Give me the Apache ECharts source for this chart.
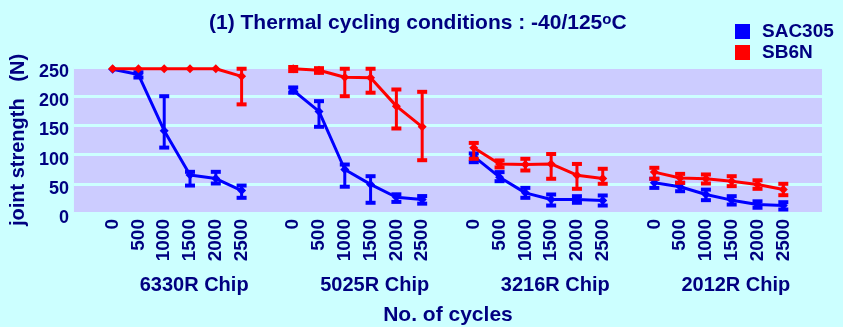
<!DOCTYPE html>
<html>
<head>
<meta charset="utf-8">
<script src="https://cdn.jsdelivr.net/npm/echarts@6/dist/echarts.min.js"></script>
<style>
html,body{margin:0;padding:0;background:#ccffff;}
#c{width:843px;height:327px;}
</style>
</head>
<body>
<div id="c"></div>
<script>
const cycles = ['0','500','1000','1500','2000','2500'];
const chips = ['6330R Chip','5025R Chip','3216R Chip','2012R Chip'];
const seriesNames = ['SAC305','SB6N'];

const sacMean = [[246,237,141,65,59,38.5],[210,174,74.5,49,27,23],[97,61.3,34.5,23,23,21.4],[51.7,44.9,31.7,22,14.5,12.8]];
const sacLow  = [[246,232,112,47,50.5,26],[206,147.6,45,17.5,19,16],[87,54.5,26,12.8,17.5,12.8],[43,37.3,22,14.5,9,6]];
const sacHigh = [[246,241,200,70.5,70.5,47],[215,191.5,83,63,32,29],[102,70,43,31.7,28.8,30],[58.6,51.7,40,28.8,20,18.5]];

const redMean = [[247,247,247,247,247,234],[247,244.5,232.5,231.5,183,147.6],[111.6,84,83,84,64.7,59],[70,60,58.6,54.5,48.8,40.2]];
const redLow  = [[247,247,247,247,247,186],[243,240,200,206,144.7,90.4],[92.8,78,72.8,58.6,41.4,50],[58.6,51.7,50.5,46,41.4,30.5]];
const redHigh = [[247,247,247,247,247,247],[250,248,247,247,211.5,207.5],[120,90,92.8,101,84,75.7],[77.4,67,66,63,56,50]];

// build category keys: gap, 6 cycles, gap, ...
const xKeys = [];
const groupStart = [];
chips.forEach((ch, g) => {
  xKeys.push('gap' + g);
  groupStart.push(xKeys.length);
  cycles.forEach(c => xKeys.push(ch + '|' + c));
});
xKeys.push('gapEnd');

function lineData(mean) {
  const arr = xKeys.map(() => null);
  mean.forEach((vals, g) => vals.forEach((v, i) => { arr[groupStart[g] + i] = v; }));
  return arr;
}
function errData(low, high) {
  const out = [];
  low.forEach((vals, g) => vals.forEach((v, i) => { out.push([groupStart[g] + i, v, high[g][i]]); }));
  return out;
}

const navy = '#000080';
const FF = '"Liberation Sans", Arial, Helvetica, sans-serif';

function makeErr(color) {
  return function (params, api) {
    const x = api.value(0), lo = api.value(1), hi = api.value(2);
    if (hi - lo < 0.5) return null;
    const top = api.coord([x, hi]);
    const bot = api.coord([x, lo]);
    const hw = 5;
    return {
      type: 'group',
      children: [
        {type: 'line', shape: {x1: top[0], y1: top[1], x2: bot[0], y2: bot[1]}, style: {stroke: color, lineWidth: 3}},
        {type: 'rect', shape: {x: top[0] - hw, y: top[1] - 2, width: 2 * hw, height: 4}, style: {fill: color}},
        {type: 'rect', shape: {x: bot[0] - hw, y: bot[1] - 2, width: 2 * hw, height: 4}, style: {fill: color}}
      ]
    };
  };
}

const chart = echarts.init(document.getElementById('c'), null, {renderer: 'canvas'});
const option = {
  backgroundColor: '#ccffff',
  animation: false,
  title: {
    text: '(1) Thermal cycling conditions : -40/125{sup|o}C',
    left: 204, top: 7,
    textStyle: {
      fontFamily: FF, fontSize: 21, fontWeight: 'bold', color: navy,
      rich: {sup: {fontFamily: FF, fontSize: 15, fontWeight: 'bold', color: navy, verticalAlign: 'top', padding: [0, 0, 8, 0]}}
    }
  },
  legend: {
    data: seriesNames,
    orient: 'vertical', left: 735, top: 22, padding: 0,
    itemWidth: 15, itemHeight: 15, itemGap: 2,
    icon: 'rect',
    textStyle: {fontFamily: FF, fontSize: 19, fontWeight: 'bold', color: navy, lineHeight: 15, padding: [0, 0, 0, 7]}
  },
  grid: {left: 73, right: 21, top: 67, bottom: 113.5, show: true, backgroundColor: '#ccccff', borderWidth: 0},
  xAxis: {
    type: 'category', data: xKeys, boundaryGap: true,
    axisLine: {show: false}, axisTick: {show: false}, splitLine: {show: false},
    axisLabel: {
      interval: 0, rotate: 90, margin: 6,
      fontFamily: FF, fontSize: 19, fontWeight: 'bold', color: navy,
      formatter: v => v.indexOf('|') >= 0 ? v.split('|')[1] : ''
    },
    name: 'No. of cycles', nameLocation: 'middle', nameGap: 92,
    nameTextStyle: {fontFamily: FF, fontSize: 21, fontWeight: 'bold', color: navy}
  },
  yAxis: {
    type: 'value', min: 0, max: 250, interval: 50,
    axisLine: {show: false}, axisTick: {show: false},
    splitLine: {lineStyle: {color: '#ccffff', width: 3}},
    axisLabel: {fontFamily: FF, fontSize: 18, fontWeight: 'bold', color: navy, margin: 5, verticalAlign: 'top', lineHeight: 10},
    name: 'joint strength   (N)', nameLocation: 'middle', nameGap: 38, nameRotate: 90,
    nameTextStyle: {fontFamily: FF, fontSize: 20, fontWeight: 'bold', color: navy}
  },
  series: [
    {name: 'SAC305', type: 'line', data: lineData(sacMean), connectNulls: false,
     symbol: 'diamond', symbolSize: 9, color: '#0000ff', lineStyle: {width: 3, color: '#0000ff'}, itemStyle: {color: '#0000ff'}, z: 3},
    {name: 'SAC305 err', type: 'custom', data: errData(sacLow, sacHigh), renderItem: makeErr('#0000ff'),
     encode: {x: 0, y: [1, 2]}, z: 3},
    {name: 'SB6N', type: 'line', data: lineData(redMean), connectNulls: false,
     symbol: 'diamond', symbolSize: 9, color: '#ff0000', lineStyle: {width: 3, color: '#ff0000'}, itemStyle: {color: '#ff0000'}, z: 4},
    {name: 'SB6N err', type: 'custom', data: errData(redLow, redHigh), renderItem: makeErr('#ff0000'),
     encode: {x: 0, y: [1, 2]}, z: 4}
  ]
};
chart.setOption(option);

// chip group labels positioned through the category axis scale
const step = chart.convertToPixel({xAxisIndex: 0}, xKeys[1]) - chart.convertToPixel({xAxisIndex: 0}, xKeys[0]);
const graphics = chips.map((ch, g) => {
  const a = chart.convertToPixel({xAxisIndex: 0}, xKeys[groupStart[g]]);
  const b = chart.convertToPixel({xAxisIndex: 0}, xKeys[groupStart[g] + cycles.length - 1]);
  return {
    type: 'text',
    x: (a + b) / 2 + 0.66 * step, y: 285,
    style: {text: ch, fontFamily: FF, fontSize: 20, fontWeight: 'bold', fill: navy, textAlign: 'center', textVerticalAlign: 'middle'}
  };
});
chart.setOption({graphic: graphics});
</script>
</body>
</html>
